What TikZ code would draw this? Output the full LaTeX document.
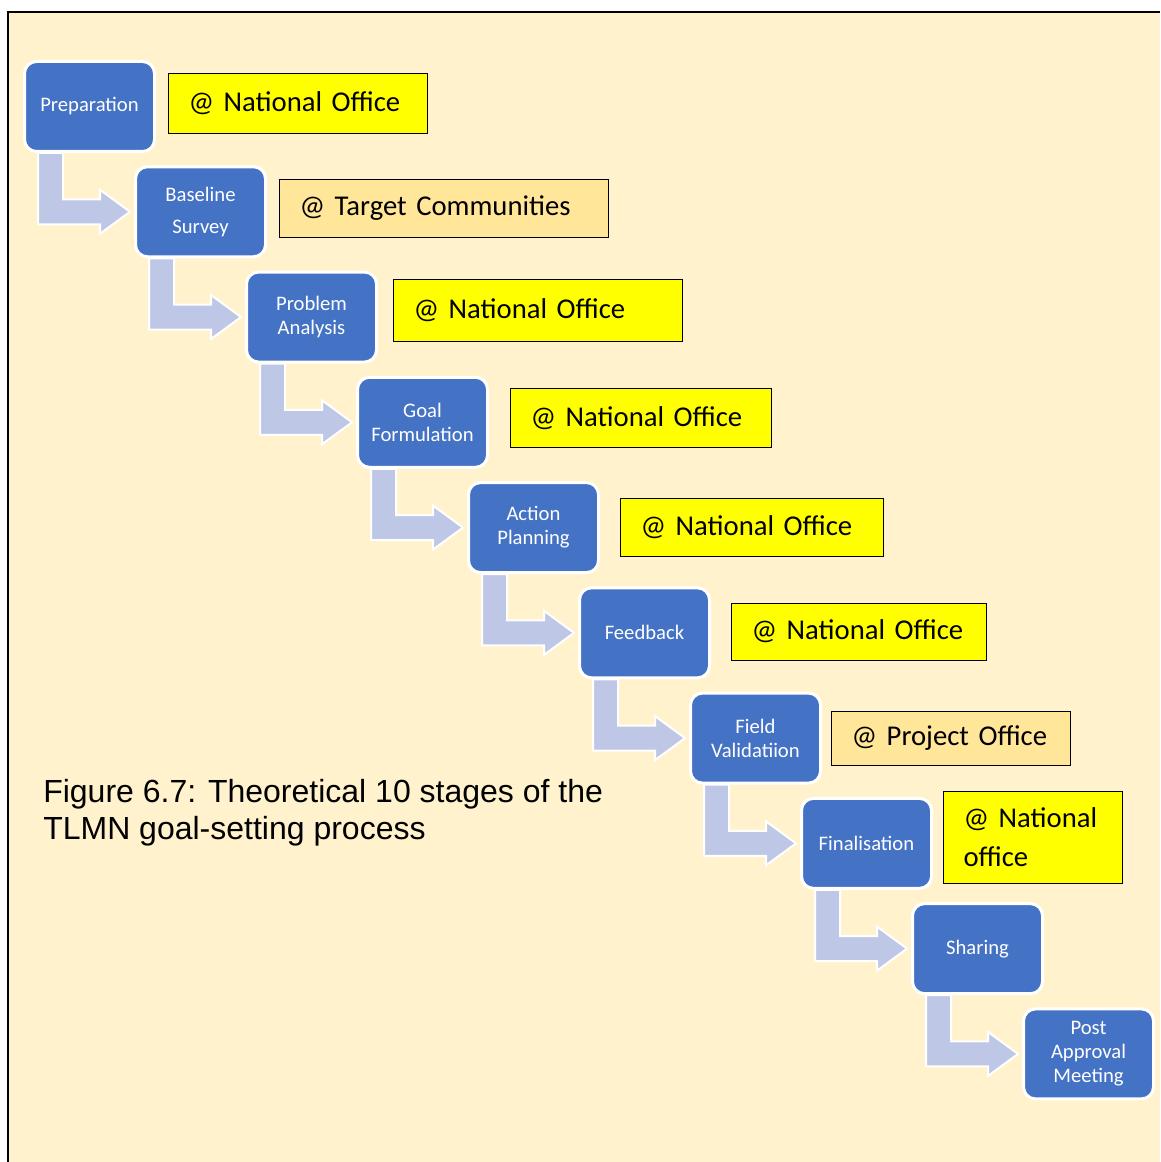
\documentclass[tikz,border=0pt]{standalone}
\usepackage{fontspec}
\setmainfont{Carlito}
\newfontfamily\captionfont{Liberation Sans}
\usetikzlibrary{positioning, calc}
\definecolor{cream}{RGB}{255,242,204}
\definecolor{stageblue}{RGB}{68,114,196}
\definecolor{flowblue}{RGB}{190,199,229}
\definecolor{national}{RGB}{255,255,0}
\definecolor{local}{RGB}{255,230,153}
\hyphenpenalty=10000

\begin{document}
\begin{tikzpicture}[x=0.75pt, y=-0.75pt,
  stage/.style={draw=white, line width=2.25pt, fill=stageblue, rounded corners=9pt, minimum width=97.5pt, minimum height=67.5pt, text=white, align=center, font=\fontsize{15.5}{18}\selectfont},
  office/.style={draw=black, line width=0.75pt, fill=national, inner xsep=15pt, align=left, font=\fontsize{21.5}{29}\selectfont},
  flow/.style={fill=flowblue, draw=white, line width=1.5pt, line join=miter}]
  \useasboundingbox (0,0) rectangle (1160,1162);
  % page frame
  \fill[cream] (8,12) rectangle (1160,1162);
  \draw[line width=1.5pt] (8,1162) -- (8,12) -- (1160,12);

  % stages
  \node[stage] (s1) at (89.5,106.5) {Preparation};
  \node[stage, below right=9.2pt and -16.5pt of s1] (s2) {Baseline\\[6pt]Survey};
  \node[stage, below right=9.2pt and -16.5pt of s2] (s3) {Problem\\Analysis};
  \node[stage, below right=9.2pt and -16.5pt of s3] (s4) {Goal\\Formulation};
  \node[stage, below right=9.2pt and -16.5pt of s4] (s5) {Action\\Planning};
  \node[stage, below right=9.2pt and -16.5pt of s5] (s6) {Feedback};
  \node[stage, below right=9.2pt and -16.5pt of s6] (s7) {Field\\Validatiion};
  \node[stage, below right=9.2pt and -16.5pt of s7] (s8) {Finalisation};
  \node[stage, below right=9.2pt and -16.5pt of s8] (s9) {Sharing};
  \node[stage, below right=9.2pt and -16.5pt of s9] (s10) {Post\\Approval\\Meeting};

  % where each stage happens
  \node[office, right=9pt of s1, yshift=2.6pt, text width=164.25pt, minimum height=45pt] (o1) {@ National Office};
  \node[office, fill=local, right=9pt of s2, yshift=2.6pt, text width=216.75pt, minimum height=43.5pt] (o2) {@ Target Communities};
  \node[office, right=11.25pt of s3, yshift=4.9pt, text width=186.75pt, minimum height=45.75pt] (o3) {@ National Office};
  \node[office, right=15.75pt of s4, yshift=3.4pt, text width=165.75pt, minimum height=44.25pt] (o4) {@ National Office};
  \node[office, right=15pt of s5, text width=167.25pt, minimum height=43.5pt] (o5) {@ National Office};
  \node[office, right=15pt of s6, yshift=1pt, text width=161.25pt, minimum height=42.75pt] (o6) {@ National Office};
  \node[office, fill=local, right=6.75pt of s7, text width=149.25pt, minimum height=40.5pt] (o7) {@ Project Office};
  \node[office, right=7.5pt of s8, yshift=4.5pt, text width=104.25pt, minimum height=69pt] (o8) {@ National\\office};

  % bent arrows between stages
  \foreach \i/\j in {1/2,2/3,3/4,4/5,5/6,6/7,7/8,8/9,9/10}{
    \coordinate (tip) at ($(s\j.west)+(-4,0)$);
    \draw[flow] ($(s\i.south west)+(15,0)$) coordinate (a) -- ++(25,0) |- ($(tip)+(-30,-12.5)$) -- ++(0,-9.5) -- (tip) -- ++(-30,22) -- ++(0,-9.5) -| (a) -- cycle;
  }

  \node[anchor=north west, inner sep=0pt, align=left, font=\captionfont\fontsize{24}{27.75}\selectfont] (caption) at (43,779) {Figure 6.7: Theoretical 10 stages of the\\TLMN goal-setting process};
\end{tikzpicture}
\end{document}
